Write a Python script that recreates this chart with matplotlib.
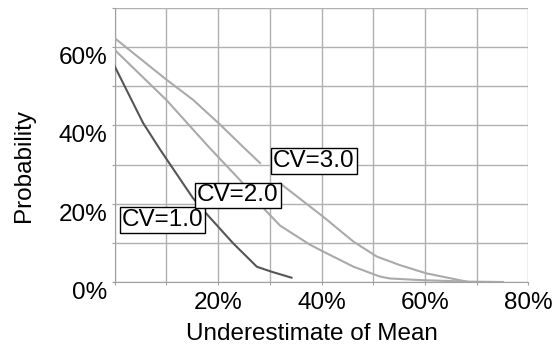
import matplotlib
matplotlib.use("Agg")
import matplotlib.pyplot as plt
import numpy as np
from matplotlib.ticker import MultipleLocator, FuncFormatter
from matplotlib.transforms import ScaledTranslation

plt.rcParams["font.family"] = ["Liberation Sans", "DejaVu Sans"]

# Underestimate of mean (%) vs probability (%), one curve per CV
cv1_x = [0, 5.5, 8.8, 15.1, 17.5, 22.9, 27.5, 30.4, 34.2]
cv1_y = [55.1, 40.6, 33.8, 21.5, 17.8, 9.9, 3.9, 2.6, 1.1]

cv2_x = [0, 10, 18.4, 24.2, 29.1, 32, 37.8, 40.3, 46.2, 51.3, 53.2, 59, 68.1]
cv2_y = [59.3, 46.5, 34.2, 26.1, 18.4, 14.4, 9.5, 7.8, 3.9, 1.4, 0.9, 0.5, 0.1]

# the CV=3.0 curve is broken just before its label
cv3_x = [0, 10, 15.2, 20.4, 25, 28.1, np.nan, 32, 40.3, 46.2, 50.7, 55.2, 60.3, 68.1, 75.1]
cv3_y = [62.3, 51.7, 46.5, 40.2, 34.3, 30.4, np.nan, 25.2, 16.7, 10.3, 6.5, 4.3, 2.2, 0.1, 0.0]

labels = ["CV=1.0", "CV=2.0", "CV=3.0"]
label_pos = [(9.2, 15.8), (23.8, 22.1), (38.5, 30.9)]

FS = 17.5

fig = plt.figure(figsize=(5.53, 3.5), dpi=100)
ax = fig.add_axes([114.7 / 553, 1 - 282 / 350, (528.3 - 114.7) / 553, (282 - 8) / 350])

ax.plot(cv3_x, cv3_y, color="#aaaaaa", lw=1.5, zorder=3)
ax.plot(cv2_x, cv2_y, color="#aaaaaa", lw=1.5, zorder=3)
ax.plot(cv1_x, cv1_y, color="#555555", lw=1.5, zorder=3)

for text, (tx, ty) in zip(labels, label_pos):
    ax.text(tx, ty, text, fontsize=FS, ha="center", va="center", zorder=5,
            bbox=dict(boxstyle="square,pad=0.08", fc="white", ec="black", lw=1))

ax.set_xlim(0, 80)
ax.set_ylim(0, 70)
ax.xaxis.set_major_locator(MultipleLocator(10))
ax.yaxis.set_major_locator(MultipleLocator(10))


def xfmt(v, pos):
    v = int(round(v))
    return f"{v}%" if v % 20 == 0 and v > 0 else ""


def yfmt(v, pos):
    v = int(round(v))
    return f"{v}%" if v % 20 == 0 and v <= 60 else ""


ax.xaxis.set_major_formatter(FuncFormatter(xfmt))
ax.yaxis.set_major_formatter(FuncFormatter(yfmt))

ax.grid(True, color="#b0b0b0", lw=1)
ax.set_axisbelow(True)
for s in ["top", "right"]:
    ax.spines[s].set_visible(False)
for s in ["left", "bottom"]:
    ax.spines[s].set_color("#a0a0a0")
ax.tick_params(axis="both", colors="#a0a0a0", labelcolor="black", labelsize=FS,
               length=2.5, direction="out")
ax.tick_params(axis="x", pad=4.7)
ax.tick_params(axis="y", pad=2.8)

# no gridline along the top edge
fig.canvas.draw()
ax.yaxis.get_gridlines()[-1].set_visible(False)

# y tick labels sit a little below their gridlines
shift = ScaledTranslation(0, -8.5 / 100, fig.dpi_scale_trans)
for lab in ax.get_yticklabels():
    lab.set_transform(lab.get_transform() + shift)

ax.set_xlabel("Underestimate of Mean", fontsize=FS, va="center")
ax.xaxis.set_label_coords(0.476, -0.188)
ax.set_ylabel("Probability", fontsize=FS, va="center")
ax.yaxis.set_label_coords(-0.219, 0.424)

fig.savefig("out.png", dpi=100)
